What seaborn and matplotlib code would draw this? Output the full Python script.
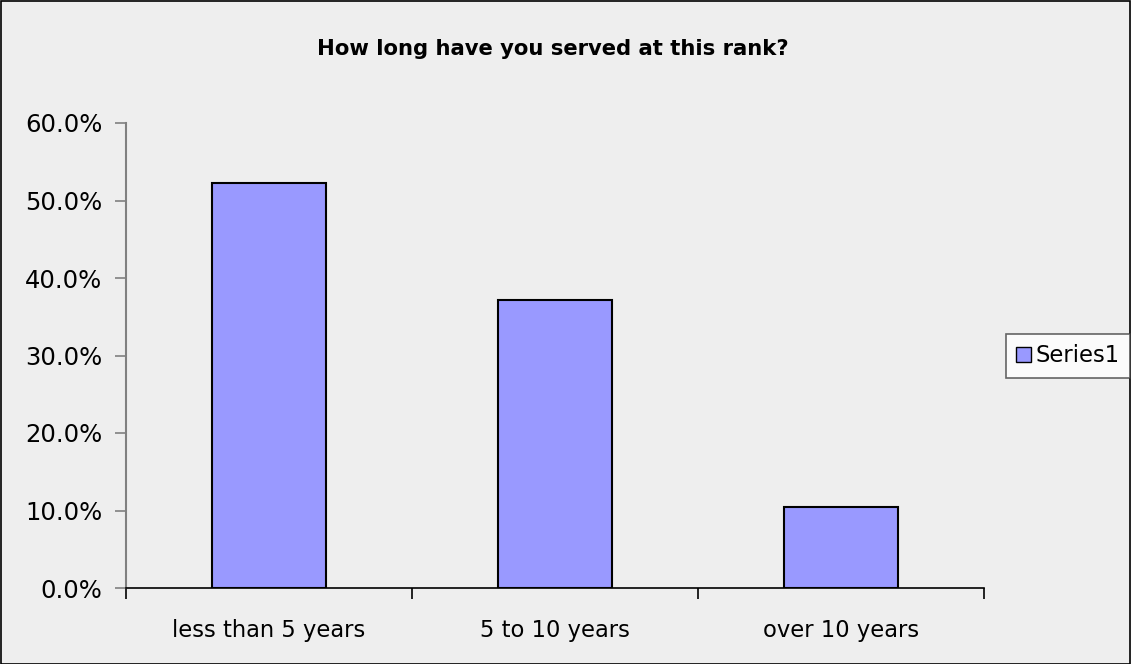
import matplotlib
matplotlib.use("Agg")
import matplotlib.pyplot as plt
import seaborn as sns
import pandas as pd
from matplotlib.patches import Patch, Rectangle
from matplotlib.ticker import FixedLocator, PercentFormatter

categories = ["less than 5 years", "5 to 10 years", "over 10 years"]
values = [52.3, 37.1, 10.5]
yticks = [0, 10, 20, 30, 40, 50, 60]
series_name = "Series1"
title = "How long have you served at this rank?"

bg = "#eeeeee"
bar_color = "#9999ff"

sns.set_theme(style="white")
plt.rcParams["font.family"] = ["DejaVu Sans", "Liberation Sans"]
plt.rcParams["text.color"] = "black"

fig = plt.figure(figsize=(11.31, 6.64), dpi=100, facecolor=bg)
W, H = 1131, 664
ax = fig.add_axes([126 / W, 1 - 588 / H, (984 - 126) / W, (588 - 123) / H])
ax.set_facecolor(bg)

df = pd.DataFrame({"cat": categories, "val": values})
sns.barplot(data=df, x="cat", y="val", color=bar_color, edgecolor="black",
            linewidth=1.5, width=0.4, saturation=1, ax=ax)
for p in ax.patches:
    p.set_facecolor(bar_color)

ax.set_xlim(-0.5, len(categories) - 0.5)
ax.set_ylim(0, 60)
ax.set_yticks(yticks)
ax.yaxis.set_major_formatter(PercentFormatter(decimals=1))
ax.set_xlabel("")
ax.set_ylabel("")

for s in ["top", "right"]:
    ax.spines[s].set_visible(False)
ax.spines["left"].set_color("#808080")
ax.spines["left"].set_linewidth(1.5)
ax.spines["bottom"].set_color("black")
ax.spines["bottom"].set_linewidth(1.2)

ax.tick_params(axis="y", direction="out", length=8, width=1.2, color="#808080",
               labelsize=17.5, labelcolor="black", pad=9, left=True)
ax.tick_params(axis="x", which="major", length=0, labelsize=16.3, pad=22,
               labelcolor="black")
ax.xaxis.set_minor_locator(FixedLocator([i - 0.5 for i in range(len(categories) + 1)]))
ax.tick_params(axis="x", which="minor", direction="out", length=8, width=1.2,
               color="black", bottom=True)

fig.text(553 / W, 1 - 49 / H, title, ha="center", va="center",
         fontsize=15.2, fontweight="bold", color="black")

leg = fig.legend(handles=[Patch(facecolor=bar_color, edgecolor="black", label=series_name)],
                 loc="center left", bbox_to_anchor=(1006 / W, 1 - 356 / H),
                 frameon=True, fontsize=16.3, handlelength=0.65, handleheight=0.65,
                 handletextpad=0.2, borderpad=0.45, fancybox=False,
                 borderaxespad=0, labelcolor="black")
leg.get_frame().set_edgecolor("#404040")
leg.get_frame().set_facecolor("white")
leg.get_frame().set_linewidth(1.2)

fig.patches.append(Rectangle((0.5 / W, 0.5 / H), 1 - 1.5 / W, 1 - 1.5 / H,
                             transform=fig.transFigure, fill=False,
                             edgecolor="black", linewidth=1.2))

fig.savefig("out.png", dpi=100, facecolor=bg)
